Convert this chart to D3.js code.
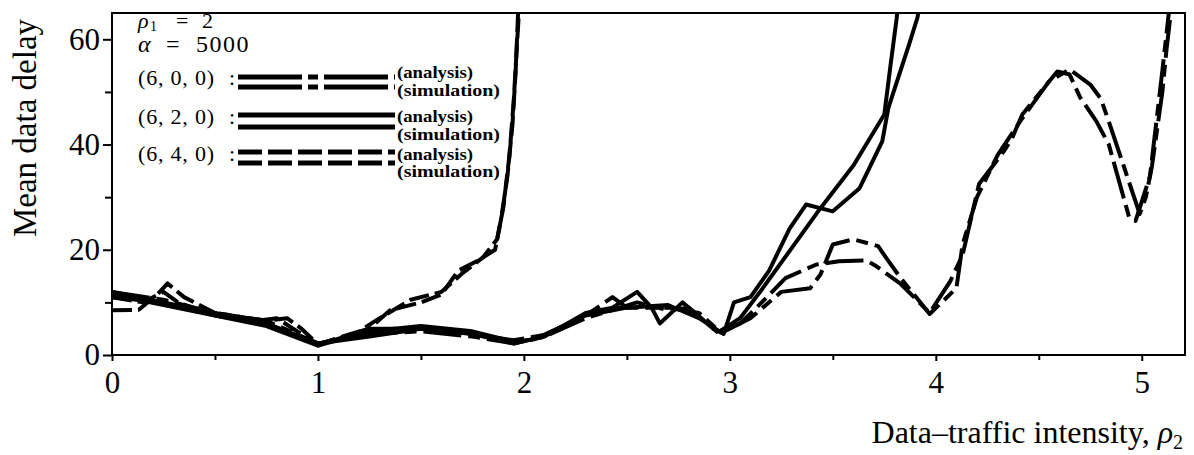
<!DOCTYPE html>
<html>
<head>
<meta charset="utf-8">
<script src="https://cdn.jsdelivr.net/npm/d3@7"></script>
<style>
  html, body { margin: 0; padding: 0; background: #fff; }
  svg { display: block; }
  text { font-family: "Liberation Serif", "DejaVu Serif", serif; fill: #000; }
</style>
</head>
<body>
<svg id="chart" width="1194" height="455"></svg>
<script>
// Mean data delay vs data-traffic intensity rho2, for three channel configurations.
const xTicks = [0, 1, 2, 3, 4, 5];
const xMinorTicks = [0.5, 1.5, 2.5, 3.5, 4.5];
const yTicks = [0, 20, 40, 60];
const yMinorTicks = [10, 30, 50];

const configs = ["(6, 0, 0)", "(6, 2, 0)", "(6, 4, 0)"];
const methods = ["(analysis)", "(simulation)"];

// (6,0,0)
const analysis600 = [[0,11],[0.25,10],[0.5,7.5],[0.75,6],[1.0,2],[1.25,5],[1.5,5],[1.75,4],[1.95,2.8],[2.1,3.8],[2.3,7.5],[2.43,11],[2.5,9],[2.7,9],[2.85,8],[2.95,4.5],[3.05,6],[3.13,9],[3.27,14.6],[3.42,17.2],[3.53,17.8],[3.66,18],[3.71,16.9],[3.83,13.5],[3.97,8],[4.07,14],[4.13,19],[4.21,32.5],[4.33,38.7],[4.37,41.2],[4.42,45.7],[4.59,53.9],[4.65,53.3],[4.7,49],[4.78,44.4],[4.84,40],[4.94,26],[4.97,25.5],[5.04,34],[5.1,54],[5.14,68]];
const simulation600 = [[0,12],[0.25,10.5],[0.5,8],[0.75,6.5],[1.0,2.2],[1.25,4],[1.5,4.5],[1.75,3.5],[1.95,2.2],[2.1,3.5],[2.3,7],[2.55,10],[2.7,8.5],[2.8,9],[2.95,4],[3.1,7],[3.25,12],[3.39,12.7],[3.44,15.3],[3.5,21],[3.6,22],[3.72,20.7],[3.76,18.4],[3.83,14.6],[3.97,7.8],[4.1,12.7],[4.13,21],[4.2,30],[4.3,38],[4.42,45],[4.55,52],[4.65,54.3],[4.75,51.4],[4.8,48.8],[4.84,44.4],[4.99,26.8],[5.02,30],[5.05,36],[5.1,50],[5.12,58],[5.15,68]];

// (6,2,0)
const analysis620 = [[0,11.5],[0.25,9.5],[0.5,7.5],[0.75,5.5],[1.0,1.8],[1.25,4.5],[1.5,5.5],[1.75,4.5],[1.95,2.5],[2.05,3],[2.3,7.5],[2.5,9],[2.7,9.5],[2.85,7],[2.95,4.5],[3.05,7],[3.16,12.7],[3.44,27.9],[3.6,36],[3.75,45.7],[3.78,55],[3.81,64],[3.82,68]];
const simulation620 = [[0,12],[0.25,10],[0.5,8],[0.75,6],[1.0,2.2],[1.25,3.5],[1.5,5],[1.75,4],[1.95,2.2],[2.1,3.5],[2.3,8],[2.43,9],[2.55,12],[2.62,9],[2.66,6],[2.77,10],[2.92,5],[2.97,4],[3.02,10],[3.1,11],[3.19,16],[3.29,24],[3.37,28.6],[3.5,27.3],[3.63,31.7],[3.74,40.6],[3.77,47],[3.82,53],[3.87,59],[3.91,64],[3.93,68]];

// (6,4,0)
const analysis640 = [[0,8.5],[0.13,8.6],[0.22,11.5],[0.27,13.6],[0.35,11],[0.5,8],[0.75,6.5],[0.85,7],[0.92,5],[1.0,2],[1.2,4.5],[1.3,7],[1.45,10.5],[1.6,12],[1.7,15.5],[1.8,18.5],[1.87,22],[1.9,28],[1.93,38],[1.95,48],[1.965,58],[1.98,68]];
const simulation640 = [[0,11],[0.15,10],[0.25,12],[0.32,10],[0.5,7.5],[0.7,6.5],[0.8,7],[0.9,4.5],[1.0,1.8],[1.25,5],[1.35,8.5],[1.5,10],[1.6,11.5],[1.68,16],[1.78,18],[1.86,20],[1.89,26],[1.92,34],[1.945,44],[1.96,54],[1.975,68]];

const seriesList = [
  { key: 0, data: analysis600 },
  { key: 0, data: simulation600 },
  { key: 1, data: analysis620 },
  { key: 1, data: simulation620 },
  { key: 2, data: analysis640 },
  { key: 2, data: simulation640 }
];

// line style per configuration: dash-dot, solid, dashed
const dashPlot = ["38,7,12,7", null, "20,6"];
const dashLegend = ["64,6,10,6", null, "24,6"];

const svg = d3.select("#chart");
const plotLeft = 112, plotRight = 1185, plotTop = 13, plotBottom = 355;

const x = d3.scaleLinear().domain([0, 5.21]).range([plotLeft, plotRight]);
const y = d3.scaleLinear().domain([0, 65]).range([plotBottom, plotTop]);

svg.append("defs").append("clipPath").attr("id", "plotclip")
  .append("rect").attr("x", plotLeft).attr("y", plotTop)
  .attr("width", plotRight - plotLeft).attr("height", plotBottom - plotTop);

// frame
svg.append("rect")
  .attr("x", plotLeft).attr("y", plotTop)
  .attr("width", plotRight - plotLeft).attr("height", plotBottom - plotTop)
  .attr("fill", "none").attr("stroke", "#000").attr("stroke-width", 2);

// x axis
const xAxis = svg.append("g").attr("transform", `translate(0,${plotBottom})`)
  .call(d3.axisBottom(x).tickValues(xTicks).tickFormat(d3.format("d")).tickSize(6).tickPadding(10));
xAxis.select(".domain").remove();
xAxis.selectAll(".tick line").attr("stroke-width", 2);
xAxis.selectAll("text").attr("font-size", 31);

const xMinor = svg.append("g").attr("transform", `translate(0,${plotBottom})`)
  .call(d3.axisBottom(x).tickValues(xMinorTicks).tickFormat("").tickSize(5));
xMinor.select(".domain").remove();
xMinor.selectAll(".tick line").attr("stroke-width", 2);

// y axis
const yAxis = svg.append("g").attr("transform", `translate(${plotLeft},0)`)
  .call(d3.axisLeft(y).tickValues(yTicks).tickFormat(d3.format("d")).tickSize(9).tickPadding(3));
yAxis.select(".domain").remove();
yAxis.selectAll(".tick line").attr("stroke-width", 2);
yAxis.selectAll("text").attr("font-size", 31);

const yMinor = svg.append("g").attr("transform", `translate(${plotLeft},0)`)
  .call(d3.axisLeft(y).tickValues(yMinorTicks).tickFormat("").tickSize(7));
yMinor.select(".domain").remove();
yMinor.selectAll(".tick line").attr("stroke-width", 2);

// axis titles
svg.append("text")
  .attr("transform", "translate(36,128) rotate(-90)")
  .attr("text-anchor", "middle")
  .attr("font-size", 33)
  .text("Mean data delay");

const xTitle = svg.append("text")
  .attr("x", 1183).attr("y", 443)
  .attr("text-anchor", "end")
  .attr("font-size", 32);
xTitle.append("tspan").text("Data\u2013traffic intensity, ");
xTitle.append("tspan").attr("font-style", "italic").text("\u03c1");
xTitle.append("tspan").attr("font-size", 20).attr("dy", 6).text("2");

// curves
const line = d3.line().x(d => x(d[0])).y(d => y(d[1])).curve(d3.curveLinear);
svg.append("g").attr("clip-path", "url(#plotclip)")
  .selectAll("path").data(seriesList).join("path")
  .attr("d", d => line(d.data))
  .attr("fill", "none")
  .attr("stroke", "#000")
  .attr("stroke-width", 4)
  .attr("stroke-linejoin", "round")
  .attr("stroke-dasharray", d => dashPlot[d.key]);

// legend block
const lg = svg.append("g");
const p1 = lg.append("text").attr("y", 28).attr("font-size", 22);
p1.append("tspan").attr("x", 138).attr("font-style", "italic").text("\u03c1");
p1.append("tspan").attr("x", 150).attr("font-size", 14).attr("dy", 3).text("1");
p1.append("tspan").attr("x", 176).attr("dy", -3).text("=");
p1.append("tspan").attr("x", 202).text("2");
const a1 = lg.append("text").attr("y", 52).attr("font-size", 24);
a1.append("tspan").attr("x", 138).attr("font-style", "italic").text("\u03b1");
a1.append("tspan").attr("x", 166).text("=");
a1.append("tspan").attr("x", 196).attr("letter-spacing", 1.5).text("5000");

const rowY = [[77, 87], [115, 127], [152, 163]];
const methodBase = [[78, 96], [122, 140], [160, 177]];
const methodWidth = [76, 103];
configs.forEach((c, i) => {
  const mid = (rowY[i][0] + rowY[i][1]) / 2;
  const t = lg.append("text").attr("y", mid + 3).attr("font-size", 22);
  t.append("tspan").attr("x", 138).attr("letter-spacing", 0.8).text(c);
  t.append("tspan").attr("x", 229).text(":");
  rowY[i].forEach((ly, j) => {
    lg.append("line")
      .attr("x1", 238).attr("x2", 395).attr("y1", ly).attr("y2", ly)
      .attr("stroke", "#000").attr("stroke-width", 5)
      .attr("stroke-dasharray", dashLegend[i]);
    lg.append("text").attr("x", 397).attr("y", methodBase[i][j])
      .attr("font-size", 16).attr("font-weight", "bold")
      .attr("textLength", methodWidth[j]).attr("lengthAdjust", "spacingAndGlyphs")
      .text(methods[j]);
  });
});
</script>
</body>
</html>
